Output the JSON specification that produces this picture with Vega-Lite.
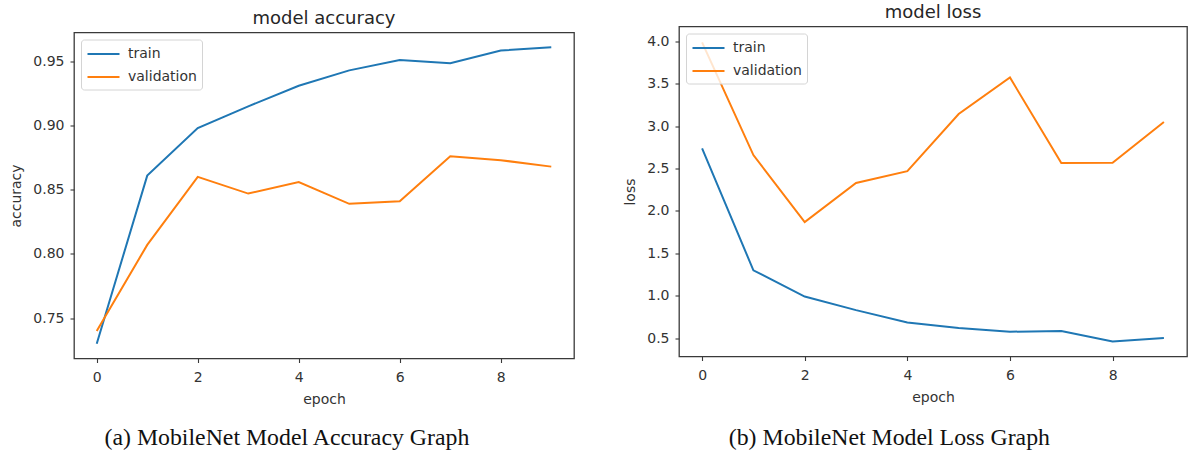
{
  "$schema": "https://vega.github.io/schema/vega-lite/v6.json",
  "padding": {"left": 9, "top": 3.5, "right": 0, "bottom": 0},
  "background": "white",
  "config": {
    "font": "DejaVu Sans",
    "view": {"stroke": "#3a3a3a", "strokeWidth": 1.3},
    "axis": {"grid": false, "domain": false, "tickColor": "#3a3a3a", "tickSize": 4, "tickWidth": 1.1, "labelFont": "DejaVu Sans", "labelFontSize": 14, "labelColor": "#333333", "titleFont": "DejaVu Sans", "titleFontSize": 14, "titleFontWeight": "normal", "titleColor": "#333333"},
    "title": {"font": "DejaVu Sans", "fontSize": 18, "fontWeight": "normal", "color": "#262626"},
    "legend": {"symbolType": "M-1,0H3", "symbolSize": 256, "symbolStrokeWidth": 2.2, "labelFont": "DejaVu Sans", "labelFontSize": 14, "labelColor": "#333333", "padding": 5, "offset": 7, "strokeColor": "#d4d4d4", "fillColor": "rgba(255,255,255,0.8)", "cornerRadius": 3, "rowPadding": 6, "labelOffset": 23},
    "concat": {"spacing": 48}
  },
  "datasets": {
    "acc": [
      {"epoch": 0, "series": "train", "value": 0.730},
      {"epoch": 1, "series": "train", "value": 0.861},
      {"epoch": 2, "series": "train", "value": 0.898},
      {"epoch": 3, "series": "train", "value": 0.915},
      {"epoch": 4, "series": "train", "value": 0.931},
      {"epoch": 5, "series": "train", "value": 0.943},
      {"epoch": 6, "series": "train", "value": 0.951},
      {"epoch": 7, "series": "train", "value": 0.9485},
      {"epoch": 8, "series": "train", "value": 0.9585},
      {"epoch": 9, "series": "train", "value": 0.961},
      {"epoch": 0, "series": "validation", "value": 0.740},
      {"epoch": 1, "series": "validation", "value": 0.807},
      {"epoch": 2, "series": "validation", "value": 0.860},
      {"epoch": 3, "series": "validation", "value": 0.847},
      {"epoch": 4, "series": "validation", "value": 0.856},
      {"epoch": 5, "series": "validation", "value": 0.839},
      {"epoch": 6, "series": "validation", "value": 0.841},
      {"epoch": 7, "series": "validation", "value": 0.876},
      {"epoch": 8, "series": "validation", "value": 0.873},
      {"epoch": 9, "series": "validation", "value": 0.868}
    ],
    "loss": [
      {"epoch": 0, "series": "train", "value": 2.74},
      {"epoch": 1, "series": "train", "value": 1.30},
      {"epoch": 2, "series": "train", "value": 0.99},
      {"epoch": 3, "series": "train", "value": 0.83},
      {"epoch": 4, "series": "train", "value": 0.685},
      {"epoch": 5, "series": "train", "value": 0.62},
      {"epoch": 6, "series": "train", "value": 0.575},
      {"epoch": 7, "series": "train", "value": 0.585},
      {"epoch": 8, "series": "train", "value": 0.46},
      {"epoch": 9, "series": "train", "value": 0.50},
      {"epoch": 0, "series": "validation", "value": 3.99},
      {"epoch": 1, "series": "validation", "value": 2.66},
      {"epoch": 2, "series": "validation", "value": 1.87},
      {"epoch": 3, "series": "validation", "value": 2.33},
      {"epoch": 4, "series": "validation", "value": 2.47},
      {"epoch": 5, "series": "validation", "value": 3.145},
      {"epoch": 6, "series": "validation", "value": 3.575},
      {"epoch": 7, "series": "validation", "value": 2.565},
      {"epoch": 8, "series": "validation", "value": 2.57},
      {"epoch": 9, "series": "validation", "value": 3.05}
    ]
  },
  "resolve": {"scale": {"color": "independent"}, "legend": {"color": "independent"}},
  "hconcat": [
    {
      "title": {"text": "(a) MobileNet Model Accuracy Graph", "orient": "bottom", "font": "Liberation Serif", "fontSize": 23.8, "color": "#111111", "offset": 18.5, "anchor": "middle", "dx": -5},
      "resolve": {"scale": {"color": "independent"}, "legend": {"color": "independent"}},
      "spacing": 0,
      "vconcat": [
        {
          "width": 500,
          "height": 4.5,
          "title": {"text": "model accuracy", "frame": "group", "anchor": "middle", "offset": -1.5},
          "view": {"stroke": "transparent"},
          "data": {"values": []},
          "mark": {"type": "point", "opacity": 0}
        },
        {
          "width": 500,
          "height": 326,
          "data": {"name": "acc"},
          "mark": {"type": "line", "strokeWidth": 2, "clip": true},
          "encoding": {
            "x": {"field": "epoch", "type": "quantitative", "scale": {"domain": [-0.45, 9.45], "nice": false, "zero": false}, "axis": {"values": [0, 2, 4, 6, 8], "format": "d", "title": "epoch", "labelPadding": 8, "titlePadding": 8}},
            "y": {"field": "value", "type": "quantitative", "scale": {"domain": [0.7185, 0.9725], "nice": false, "zero": false}, "axis": {"values": [0.75, 0.8, 0.85, 0.9, 0.95], "format": ".2f", "title": "accuracy", "labelPadding": 6, "titlePadding": 9}},
            "color": {"field": "series", "type": "nominal", "scale": {"domain": ["train", "validation"], "range": ["#1f77b4", "#ff7f0e"]}, "legend": {"title": null, "orient": "top-left"}}
          }
        }
      ]
    },
    {
      "title": {"text": "(b) MobileNet Model Loss Graph", "orient": "bottom", "font": "Liberation Serif", "fontSize": 23.8, "color": "#111111", "offset": 21, "anchor": "middle", "dx": -16},
      "resolve": {"scale": {"color": "independent"}, "legend": {"color": "independent"}},
      "hconcat": [
        {
          "width": 508,
          "height": 330,
          "title": {"text": "model loss", "frame": "group", "anchor": "middle", "offset": 4.2},
          "data": {"name": "loss"},
          "mark": {"type": "line", "strokeWidth": 2, "clip": true},
          "encoding": {
            "x": {"field": "epoch", "type": "quantitative", "scale": {"domain": [-0.45, 9.45], "nice": false, "zero": false}, "axis": {"values": [0, 2, 4, 6, 8], "format": "d", "title": "epoch", "labelPadding": 8, "titlePadding": 8}},
            "y": {"field": "value", "type": "quantitative", "scale": {"domain": [0.283, 4.177], "nice": false, "zero": false}, "axis": {"values": [0.5, 1.0, 1.5, 2.0, 2.5, 3.0, 3.5, 4.0], "format": ".1f", "title": "loss", "labelPadding": 6, "titlePadding": 9}},
            "color": {"field": "series", "type": "nominal", "scale": {"domain": ["train", "validation"], "range": ["#1f77b4", "#ff7f0e"]}, "legend": {"title": null, "orient": "top-left"}}
          }
        }
      ]
    }
  ]
}
